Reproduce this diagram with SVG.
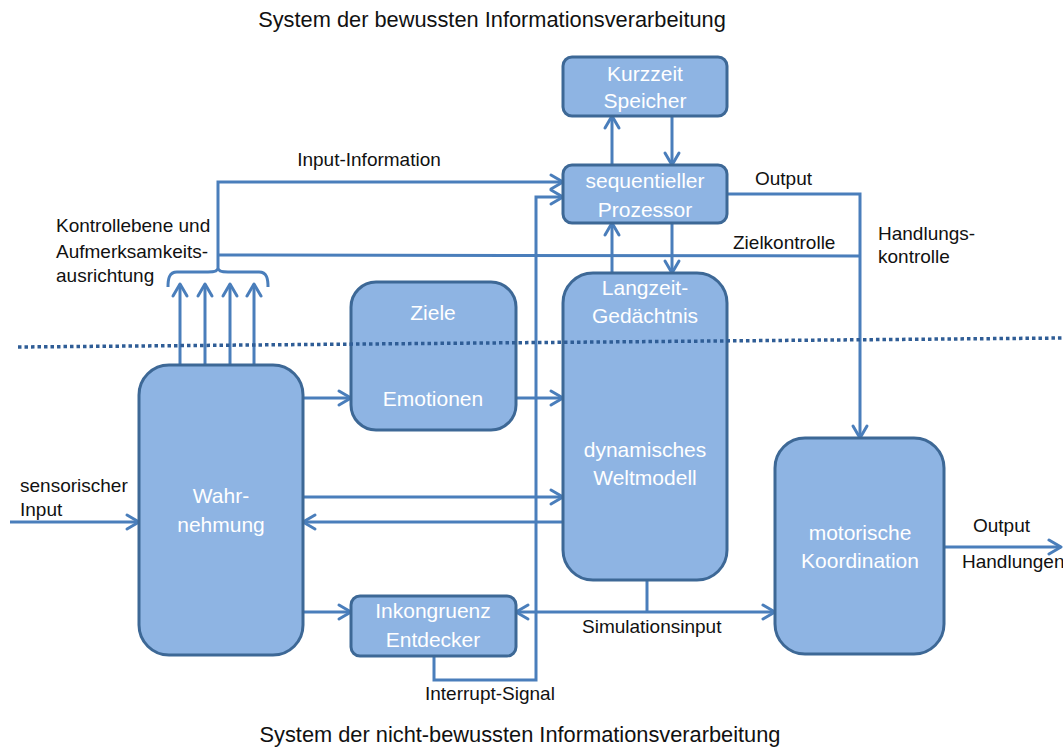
<svg xmlns="http://www.w3.org/2000/svg" width="1063" height="747" viewBox="0 0 1063 747">
<style>
.box{fill:#8eb4e3;stroke:#3d6896;stroke-width:3}
.bt{font-family:"Liberation Sans",Arial,sans-serif;font-size:21px;fill:#ffffff;text-anchor:middle}
.lb{font-family:"Liberation Sans",Arial,sans-serif;font-size:19px;fill:#111111}
.ti{font-family:"Liberation Sans",Arial,sans-serif;font-size:21.8px;fill:#111111;text-anchor:middle}
.c{fill:none;stroke:#4a7ebb;stroke-width:3}
.a{marker-end:url(#arr)}
</style>
<defs>
<marker id="arr" markerUnits="userSpaceOnUse" markerWidth="16" markerHeight="18" viewBox="0 0 16 18" refX="14" refY="9" orient="auto" overflow="visible">
<path d="M2,2 L14,9 L2,16" fill="none" stroke="#4a7ebb" stroke-width="3" stroke-linecap="round" stroke-linejoin="round"/>
</marker>
</defs>
<rect width="1063" height="747" fill="#ffffff"/>

<text class="ti" x="492" y="27">System der bewussten Informationsverarbeitung</text>
<text class="ti" x="520" y="742">System der nicht-bewussten Informationsverarbeitung</text>

<g id="connectors">
<path class="c a" d="M10,522 L139,522"/>
<path class="c a" d="M180,365 L180,284"/>
<path class="c a" d="M205,365 L205,284"/>
<path class="c a" d="M230,365 L230,284"/>
<path class="c a" d="M254,365 L254,284"/>
<path class="c" d="M168,287 C168,279 169,272 177,272 L208,272 C214,272 218,271 218,268 C218,271 222,272 228,272 L259,272 C267,272 268,279 268,287"/>
<path class="c a" d="M218,268 L218,182 L563,182"/>
<path class="c" d="M218,255 L859,256"/>
<path class="c a" d="M727,194 L860,194 L860,438"/>
<path class="c a" d="M612,165 L612,116"/>
<path class="c a" d="M672,116 L672,165"/>
<path class="c a" d="M612,273 L612,223"/>
<path class="c a" d="M672,223 L672,273"/>
<path class="c a" d="M303,398 L351,398"/>
<path class="c a" d="M516,398 L563,398"/>
<path class="c a" d="M303,497 L563,497"/>
<path class="c a" d="M563,522 L303,522"/>
<path class="c a" d="M303,612 L351,612"/>
<path class="c a" d="M434,656 L434,680 L536,680 L536,197 L563,197"/>
<path class="c" d="M647,580 L647,612"/>
<path class="c a" d="M647,612 L516,612"/>
<path class="c a" d="M647,612 L775,612"/>
<path class="c a" d="M944,547 L1061,547"/>
</g>

<g id="kurzzeit">
<rect class="box" x="563" y="57" width="164" height="59" rx="9"/>
<text class="bt" x="645" y="81">Kurzzeit</text>
<text class="bt" x="645" y="108">Speicher</text>
</g>
<g id="prozessor">
<rect class="box" x="563" y="165" width="164" height="58" rx="9"/>
<text class="bt" x="645" y="188">sequentieller</text>
<text class="bt" x="645" y="217">Prozessor</text>
</g>
<g id="langzeit">
<rect class="box" x="563" y="273" width="164" height="307" rx="30"/>
<text class="bt" x="645" y="295">Langzeit-</text>
<text class="bt" x="645" y="323">Gedächtnis</text>
<text class="bt" x="645" y="457">dynamisches</text>
<text class="bt" x="645" y="485">Weltmodell</text>
</g>
<g id="ziele">
<rect class="box" x="351" y="282" width="165" height="148" rx="25"/>
<text class="bt" x="433" y="320">Ziele</text>
<text class="bt" x="433" y="406">Emotionen</text>
</g>
<g id="wahrnehmung">
<rect class="box" x="139" y="365" width="164" height="290" rx="30"/>
<text class="bt" x="221" y="503">Wahr-</text>
<text class="bt" x="221" y="532">nehmung</text>
</g>
<g id="inkongruenz">
<rect class="box" x="351" y="596" width="165" height="60" rx="9"/>
<text class="bt" x="433" y="618">Inkongruenz</text>
<text class="bt" x="433" y="647">Entdecker</text>
</g>
<g id="koordination">
<rect class="box" x="775" y="438" width="169" height="216" rx="30"/>
<text class="bt" x="860" y="540">motorische</text>
<text class="bt" x="860" y="568">Koordination</text>
</g>

<line x1="18" y1="347" x2="1063" y2="338" stroke="#2f5d96" stroke-width="3.5" stroke-dasharray="3.5 3"/>

<g id="labels">
<text class="lb" x="369" y="166" text-anchor="middle">Input-Information</text>
<text class="lb" x="56" y="232">Kontrollebene und</text>
<text class="lb" x="56" y="258">Aufmerksamkeits-</text>
<text class="lb" x="56" y="282">ausrichtung</text>
<text class="lb" x="755" y="185">Output</text>
<text class="lb" x="733" y="249">Zielkontrolle</text>
<text class="lb" x="878" y="240">Handlungs-</text>
<text class="lb" x="878" y="263">kontrolle</text>
<text class="lb" x="20" y="492">sensorischer</text>
<text class="lb" x="20" y="516">Input</text>
<text class="lb" x="973" y="532">Output</text>
<text class="lb" x="962" y="568">Handlungen</text>
<text class="lb" x="582" y="633">Simulationsinput</text>
<text class="lb" x="425" y="700">Interrupt-Signal</text>
</g>
</svg>
